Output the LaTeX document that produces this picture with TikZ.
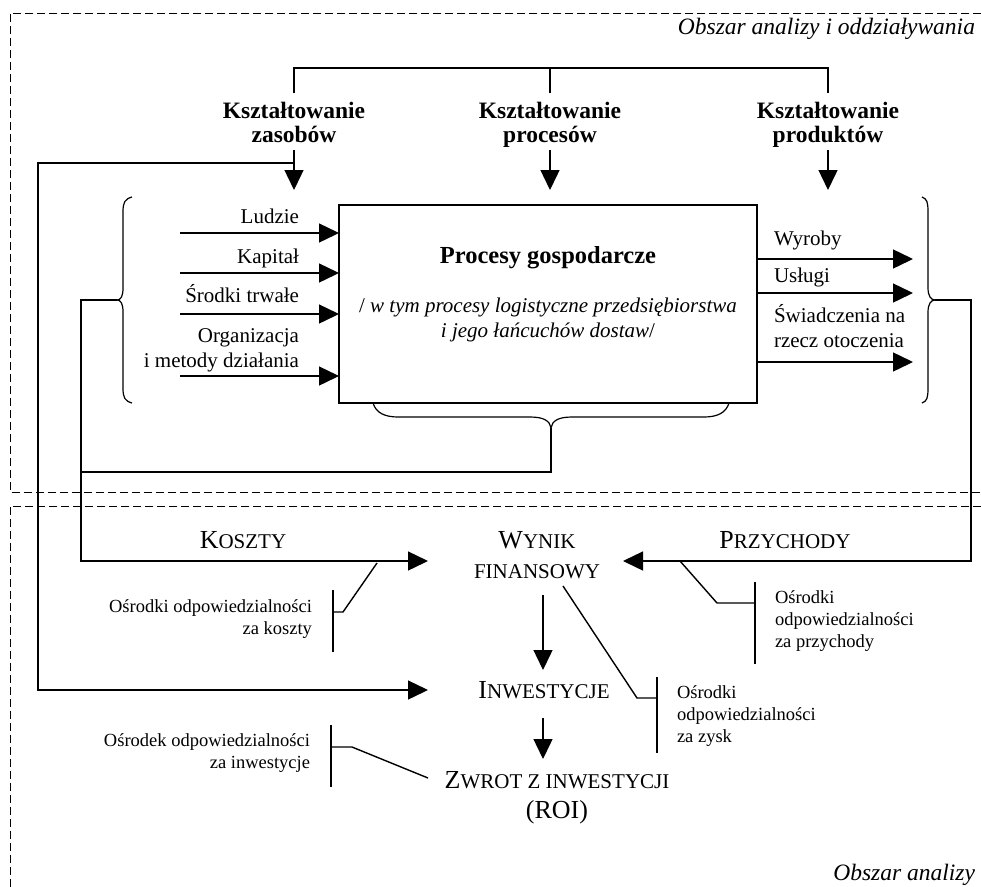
\documentclass[tikz,border=0pt]{standalone}
\usepackage{fontspec}
\setmainfont{Liberation Serif}
\usetikzlibrary{arrows.meta}
% small capitals built from two sizes of the same face
\newcommand\smcap[2]{{\fontsize{26}{30}\selectfont #1}{\fontsize{21}{25}\selectfont #2}}

\begin{document}
\begin{tikzpicture}[x=1pt,y=-1pt,
  ln/.style={line width=1.4pt},
  arr/.style={ln,-{Triangle[length=20pt,width=19pt]}},
  brk/.style={line width=1.2pt},
  zone/.style={line width=0.8pt,dash pattern=on 8pt off 4pt},
  t/.style={inner sep=0pt,outer sep=0pt},
  mid/.style={t,font=\fontsize{21}{25}\selectfont},
  head/.style={t,font=\bfseries\fontsize{23.5}{24}\selectfont,align=center,anchor=base},
  small/.style={t,font=\fontsize{18.5}{22}\selectfont},
  big/.style={t,font=\fontsize{26}{30}\selectfont,align=center,anchor=base},
  area/.style={t,font=\itshape\fontsize{23.5}{28}\selectfont,anchor=base east}
]
\useasboundingbox (0,0) rectangle (981,886);

% the two analysis areas
\draw[zone] (981,13) -- (10,13) -- (10,492) -- (981,492);
\draw[zone] (981,506) -- (10,506) -- (10,900);
\node[area] (areaA) at (975,34) {Obszar analizy i oddziaływania};
\node[area] (areaB) at (975,880) {Obszar analizy};

% shaping of resources, processes and products
% (multi-line nodes are placed by the baseline of their last line)
\node[head] (hz) at (294,142) {Kształtowanie\\zasobów};
\node[head] (hp) at (550,142) {Kształtowanie\\procesów};
\node[head] (hr) at (828,142) {Kształtowanie\\produktów};
\coordinate (hz-top) at (294,93);
\coordinate (hp-top) at (550,93);
\coordinate (hr-top) at (828,93);
\coordinate (bz) at (294,68);
\coordinate (bp) at (550,68);
\coordinate (br) at (828,68);
\draw[ln] (hz-top) -- (bz) -- (br) -- (hr-top);
\draw[ln] (bp) -- (hp-top);
\coordinate (hz-out) at (294,150);
\coordinate (hp-out) at (550,150);
\coordinate (hr-out) at (828,150);
\coordinate (hz-in) at (294,190);
\coordinate (hp-in) at (550,190);
\coordinate (hr-in) at (828,190);
\draw[arr] (hz-out) -- (hz-in);
\draw[arr] (hp-out) -- (hp-in);
\draw[arr] (hr-out) -- (hr-in);

% business processes
\node[draw,ln,minimum width=418pt,minimum height=198pt,inner sep=0pt,outer sep=0pt] (proc) at (548,304) {};
\node[t,font=\bfseries\fontsize{24.5}{28}\selectfont,anchor=base] (ptitle) at (548,263) {Procesy gospodarcze};
\node[mid,anchor=base,align=center] (psub) at (548,337)
  {/ \textit{w tym procesy logistyczne przedsiębiorstwa}\\\textit{i jego łańcuchów dostaw}/};

% inputs
\coordinate (i1) at (180,233);
\coordinate (i2) at (180,273);
\coordinate (i3) at (180,314);
\coordinate (i4) at (180,376);
\draw[arr] (i1) -- (proc.west |- i1);
\draw[arr] (i2) -- (proc.west |- i2);
\draw[arr] (i3) -- (proc.west |- i3);
\draw[arr] (i4) -- (proc.west |- i4);
\node[mid,anchor=base east] (l1) at (299,223) {Ludzie};
\node[mid,anchor=base east] (l2) at (299,263) {Kapitał};
\node[mid,anchor=base east] (l3) at (299,302) {Środki trwałe};
\node[mid,anchor=base east,align=right] (l4) at (299,367) {Organizacja\\i metody działania};

% outputs
\coordinate (o1) at (913,259);
\coordinate (o2) at (913,293);
\coordinate (o3) at (913,362);
\draw[arr] (proc.east |- o1) -- (o1);
\draw[arr] (proc.east |- o2) -- (o2);
\draw[arr] (proc.east |- o3) -- (o3);
\node[mid,anchor=base west] (r1) at (774,245) {Wyroby};
\node[mid,anchor=base west] (r2) at (774,282) {Usługi};
\node[mid,anchor=base west,align=left] (r3) at (774,347) {Świadczenia na\\rzecz otoczenia};

% braces
\coordinate (lb) at (117,300);
\coordinate (rb) at (935,300);
\coordinate (bb) at (551,428);
\draw[brk] (132,197) .. controls (125,199) and (123,202) .. (123,212) -- (123,288)
  .. controls (123,296) and (121,300) .. (lb)
  .. controls (121,300) and (123,304) .. (123,312) -- (123,388)
  .. controls (123,398) and (125,401) .. (132,403);
\draw[brk] (922,197) .. controls (927,199) and (928,202) .. (928,212) -- (928,288)
  .. controls (928,296) and (931,300) .. (rb)
  .. controls (931,300) and (928,304) .. (928,312) -- (928,388)
  .. controls (928,398) and (927,401) .. (922,403);
\draw[brk] (373,403) .. controls (376,413) and (385,417) .. (398,417) -- (530,417)
  .. controls (544,417) and (550,421) .. (bb)
  .. controls (552,421) and (558,417) .. (572,417) -- (704,417)
  .. controls (717,417) and (726,413) .. (729,403);

% financial result
\node[big] (kos) at (243,548) {\smcap{K}{OSZTY}};
\node[big] (wyn) at (537,578) {\smcap{W}{YNIK}\\\smcap{}{FINANSOWY}};
\node[big] (prz) at (785,548) {\smcap{P}{RZYCHODY}};
\node[big] (inw) at (544,698) {\smcap{I}{NWESTYCJE}};
\node[big] (zwr) at (557,818) {\smcap{Z}{WROT Z INWESTYCJI}\\(ROI)};

% flows into the financial result
\coordinate (jl) at (81,561);
\coordinate (jb) at (81,472);
\coordinate (kin) at (428,561);
\coordinate (rc) at (971,561);
\coordinate (pin) at (623,561);
\coordinate (fb) at (294,163);
\coordinate (fc) at (38,690);
\coordinate (iin) at (428,690);
\draw[arr] (lb) -| (jl) -- (kin);
\draw[ln] (bb) |- (jb);
\draw[arr] (rb) -| (rc) -- (pin);
\draw[arr] (fb) -| (fc) -- (iin);

\coordinate (w-out) at (543,595);
\coordinate (i-top) at (543,670);
\coordinate (i-out) at (543,718);
\coordinate (z-top) at (543,759);
\draw[arr] (w-out) -- (i-top);
\draw[arr] (i-out) -- (z-top);

% responsibility centres
\draw[ln] (377,563) -- (343,612) -- (333,612);
\draw[ln] (333,590) -- (333,652);
\node[small,anchor=base east,align=right] (ck) at (312,634) {Ośrodki odpowiedzialności\\za koszty};

\draw[ln] (680,561) -- (717,603) -- (755,603);
\draw[ln] (755,582) -- (755,664);
\node[small,anchor=base west,align=left] (cp) at (775,647) {Ośrodki\\odpowiedzialności\\za przychody};

\draw[ln] (563,586) -- (637,698) -- (657,698);
\draw[ln] (657,677) -- (657,753);
\node[small,anchor=base west,align=left] (cz) at (677,742) {Ośrodki\\odpowiedzialności\\za zysk};

\draw[ln] (428,778) -- (352,747) -- (331,747);
\draw[ln] (331,725) -- (331,787);
\node[small,anchor=base east,align=right] (ci) at (310,768) {Ośrodek odpowiedzialności\\za inwestycje};
\end{tikzpicture}
\end{document}
